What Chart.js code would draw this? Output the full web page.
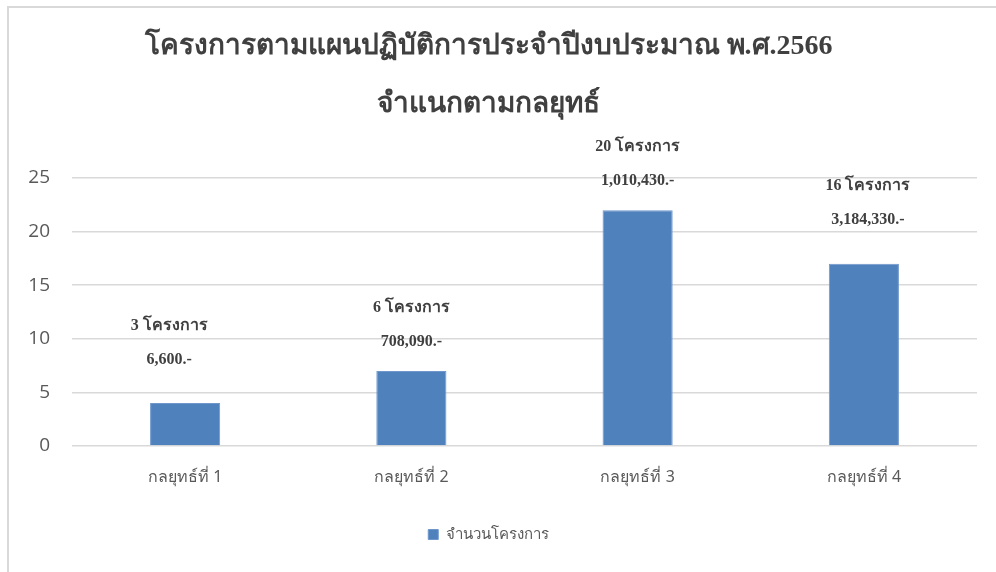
<!DOCTYPE html>
<html>
<head>
<meta charset="utf-8">
<script src="https://cdn.jsdelivr.net/npm/chart.js@4.4.0/dist/chart.umd.min.js"></script>
<style>
  html, body { margin: 0; padding: 0; background: #ffffff; }
  #frame {
    position: absolute; left: 7px; top: 6px; width: 1000px; height: 600px;
    border: 2px solid #d9d9d9; box-sizing: border-box;
  }
  #wrap { position: absolute; left: 0; top: 0; width: 996px; height: 572px; }
</style>
</head>
<body>
<div id="frame"></div>
<div id="wrap"><canvas id="strategy-chart"></canvas></div>
<script>
const titleLines = ['โครงการตามแผนปฏิบัติการประจำปีงบประมาณ พ.ศ.2566', 'จำแนกตามกลยุทธ์'];
const categories = ['กลยุทธ์ที่ 1', 'กลยุทธ์ที่ 2', 'กลยุทธ์ที่ 3', 'กลยุทธ์ที่ 4'];
const seriesName = 'จำนวนโครงการ';
const projectValues = [4, 7, 22, 17];
const countLabels = ['3 โครงการ', '6 โครงการ', '20 โครงการ', '16 โครงการ'];
const budgetLabels = ['6,600.-', '708,090.-', '1,010,430.-', '3,184,330.-'];
const yTicks = [0, 5, 10, 15, 20, 25];

const barColor = '#4f81bd';
const gridColor = '#d9d9d9';
const textGrey = '#595959';

// text boxes above the bars were placed by hand, so each one has its own nudge
const labelNudge = {
  dx: [-16, 0, 0, 4],
  lift: [43, 29, 29, 44],
  lineGap: 34
};

const barNotes = {
  id: 'barNotes',
  afterDatasetsDraw(chart) {
    const ctx = chart.ctx;
    const bars = chart.getDatasetMeta(0).data;
    ctx.save();
    ctx.font = 'bold 16px "Liberation Serif", "Times New Roman", serif';
    ctx.fillStyle = '#404040';
    ctx.textAlign = 'center';
    ctx.textBaseline = 'middle';
    bars.forEach((bar, i) => {
      const x = bar.x + labelNudge.dx[i];
      const y = bar.y - labelNudge.lift[i];
      ctx.fillText(budgetLabels[i], x, y);
      ctx.fillText(countLabels[i], x, y - labelNudge.lineGap);
    });
    ctx.restore();
  }
};

new Chart(document.getElementById('strategy-chart').getContext('2d'), {
  type: 'bar',
  data: {
    labels: categories,
    datasets: [{
      label: seriesName,
      data: projectValues,
      backgroundColor: barColor,
      borderColor: '#6f97cc',
      borderWidth: 1,
      barPercentage: 0.31,
      categoryPercentage: 1
    }]
  },
  options: {
    responsive: true,
    maintainAspectRatio: false,
    animation: false,
    layout: {
      padding: { left: 0, right: 19, top: 0, bottom: 20 }
    },
    scales: {
      x: {
        grid: { display: false, drawTicks: false },
        border: { display: false },
        ticks: {
          color: textGrey,
          padding: 22,
          font: { family: '"Noto Sans", sans-serif', size: 16 }
        },
        afterFit: axis => { axis.height = 71; }
      },
      y: {
        min: 0,
        max: 25,
        afterBuildTicks: axis => { axis.ticks = yTicks.map(v => ({ value: v })); },
        grid: { color: gridColor, lineWidth: 1.5, drawTicks: false },
        border: { display: false },
        ticks: {
          color: textGrey,
          padding: 22,
          font: { family: '"Open Sans", sans-serif', size: 19 }
        },
        afterFit: axis => { axis.width = 72; }
      }
    },
    plugins: {
      title: {
        display: true,
        text: titleLines,
        color: '#404040',
        font: { family: '"Liberation Serif", "Times New Roman", serif', size: 28, weight: 'bold', lineHeight: 58 / 28 },
        padding: { top: 18, bottom: 44 }
      },
      legend: {
        position: 'bottom',
        labels: {
          color: textGrey,
          boxWidth: 10,
          boxHeight: 10,
          padding: 10,
          font: { family: '"Noto Sans", sans-serif', size: 15 }
        }
      },
      tooltip: { enabled: false }
    }
  },
  plugins: [barNotes]
});
</script>
</body>
</html>
